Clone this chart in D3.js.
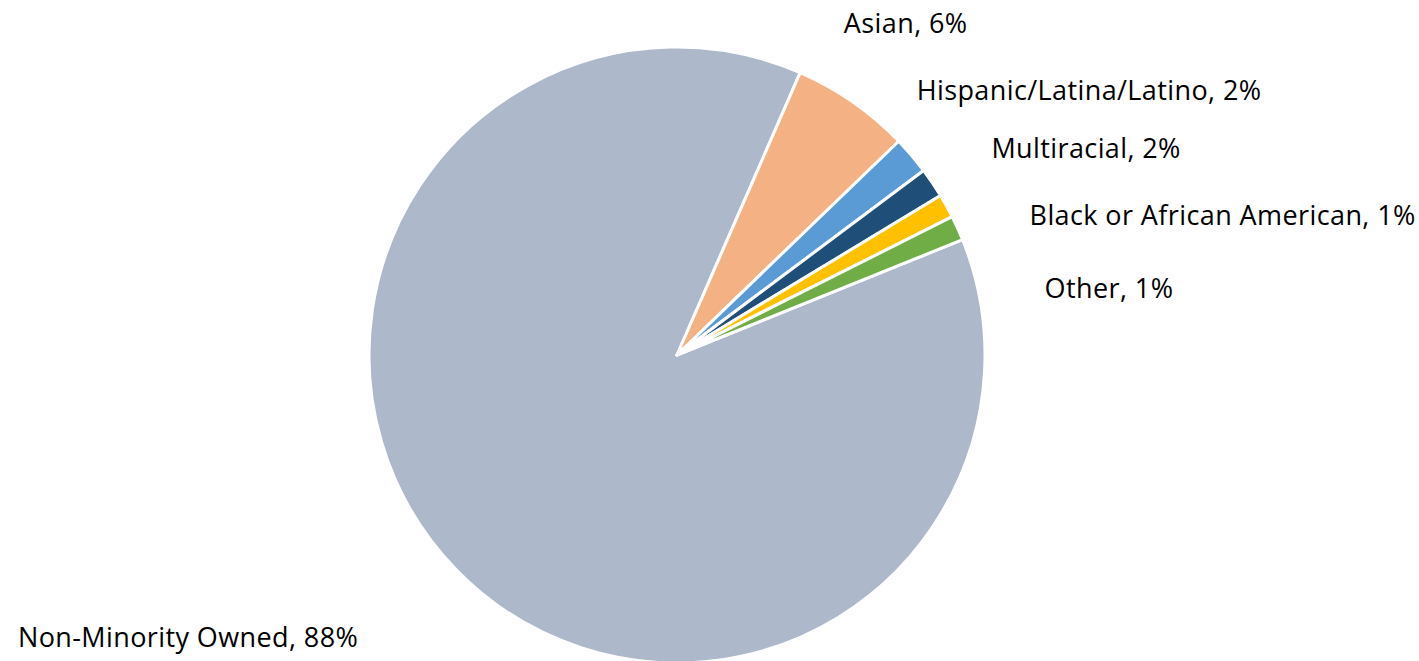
<!DOCTYPE html>
<html>
<head>
    <title>Ownership Pie</title>
    <script src="https://d3js.org/d3.v7.min.js"></script>
    <style>
        body { margin: 0; background: #fff; }
        .slice-label { font-family: "Open Sans", "Noto Sans", sans-serif; font-size: 27px; letter-spacing: 0.4px; fill: #000; }
    </style>
</head>
<body>
<div id="chart"></div>
<script>
// Data
const categories = ["Non-Minority Owned", "Asian", "Hispanic/Latina/Latino", "Multiracial", "Black or African American", "Other"];
const shares = [87.67, 6.24, 1.99, 1.56, 1.25, 1.3];
const percentLabels = ["88%", "6%", "2%", "2%", "1%", "1%"];
const colors = ["#adb9ca", "#f4b183", "#5b9bd5", "#1f4e79", "#ffc000", "#70ad47"];

// label nudges from the outer edge at each slice's mid angle
const labelNudge = [[-98, 77, "end"], [-9, -69, "start"], [5, -55, "start"], [59, -25, "start"], [83, 19, "start"], [87, 70, "start"]];

const width = 1419, height = 661;
const cx = 677, cy = 355, radius = 308;

const svg = d3.select("#chart")
    .append("svg")
    .attr("width", width)
    .attr("height", height);

const g = svg.append("g").attr("transform", `translate(${cx},${cy})`);

const rows = categories.map((c, i) => ({ name: c, value: shares[i], pct: percentLabels[i], color: colors[i], i }));

const pie = d3.pie()
    .sort(null)
    .value(d => d.value)
    .startAngle(68 * Math.PI / 180)
    .endAngle(68 * Math.PI / 180 + 2 * Math.PI);

const arc = d3.arc().innerRadius(0).outerRadius(radius);
const arcs = pie(rows);

g.selectAll(".slice")
    .data(arcs)
    .join("path")
    .attr("class", "slice")
    .attr("d", arc)
    .attr("fill", d => d.data.color)
    .attr("stroke", "#fff")
    .attr("stroke-width", 3)
    .attr("stroke-linejoin", "round");

// labels
g.selectAll(".slice-label")
    .data(arcs)
    .join("text")
    .attr("class", "slice-label")
    .attr("text-anchor", d => labelNudge[d.data.i][2])
    .attr("x", d => {
        const a = (d.startAngle + d.endAngle) / 2;
        return radius * Math.sin(a) + labelNudge[d.data.i][0];
    })
    .attr("y", d => {
        const a = (d.startAngle + d.endAngle) / 2;
        return -radius * Math.cos(a) + labelNudge[d.data.i][1];
    })
    .text(d => `${d.data.name}, ${d.data.pct}`);
</script>
</body>
</html>
